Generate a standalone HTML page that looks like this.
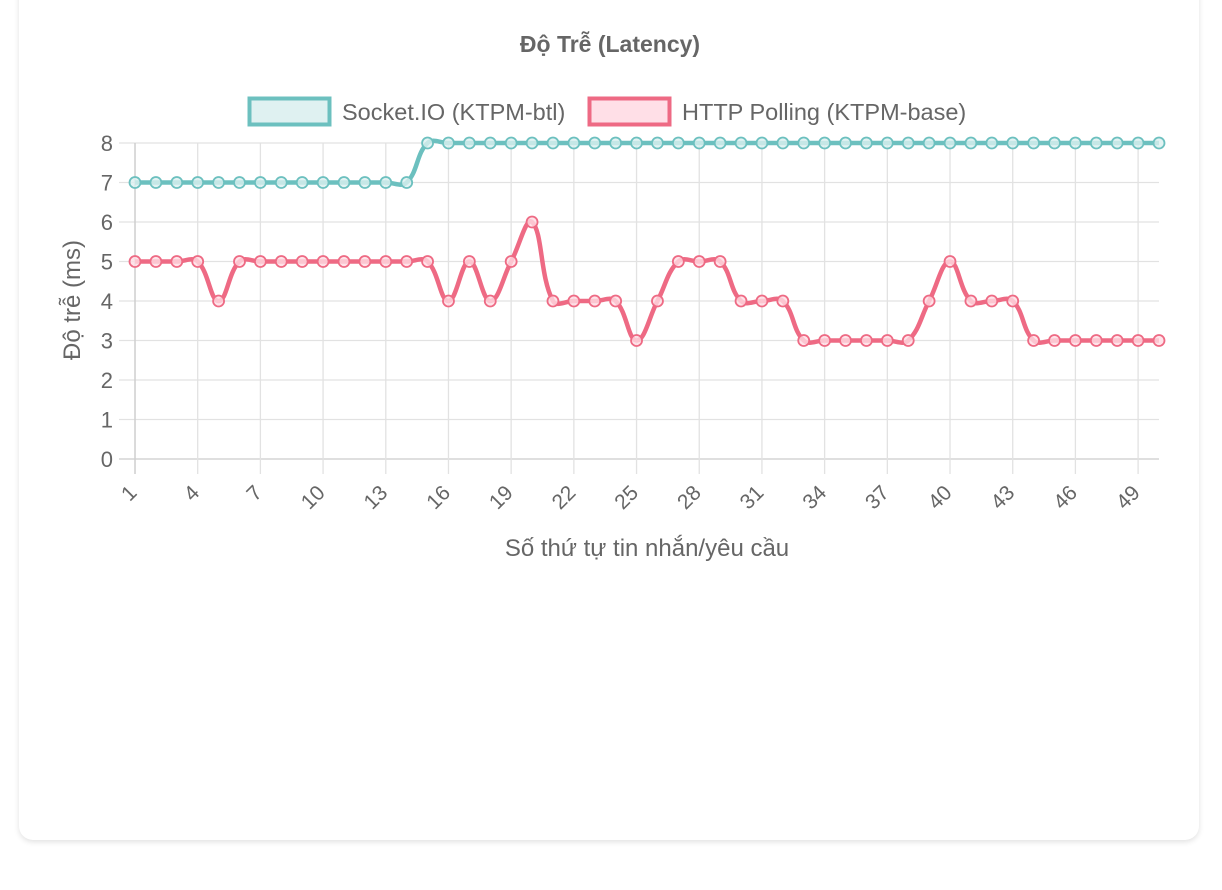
<!DOCTYPE html>
<html><head><meta charset="utf-8"><style>
html,body{margin:0;padding:0;background:#fff;width:1222px;height:890px;overflow:hidden;font-family:"Liberation Sans","Noto Sans CJK SC",sans-serif}
#card{position:absolute;left:19px;top:-20px;width:1180px;height:860px;background:#fff;border-radius:14px;box-shadow:0 2px 6px rgba(0,0,0,0.12)}
svg{position:absolute;left:0;top:0}
</style></head><body>
<div id="card"></div>
<svg id="chart" width="1222" height="890"></svg>
<script>
const categories = Array.from({length:50},(_,i)=>i+1);
const socketValues = [7,7,7,7,7,7,7,7,7,7,7,7,7,7,8,8,8,8,8,8,8,8,8,8,8,8,8,8,8,8,8,8,8,8,8,8,8,8,8,8,8,8,8,8,8,8,8,8,8,8];
const httpValues = [5,5,5,5,4,5,5,5,5,5,5,5,5,5,5,4,5,4,5,6,4,4,4,4,3,4,5,5,5,4,4,4,3,3,3,3,3,3,4,5,4,4,4,3,3,3,3,3,3,3];
const yTicks = [0,1,2,3,4,5,6,7,8];
const xTickLabels = [1,4,7,10,13,16,19,22,25,28,31,34,37,40,43,46,49];

const NS="http://www.w3.org/2000/svg";
const svg=document.getElementById('chart');
const X0=135,X1=1159,Y0=459,Y1=143;
const xs=v=>X0+(v-1)*(X1-X0)/(categories.length-1);
const ys=v=>Y0-v*(Y0-Y1)/8;
function el(tag,attrs,parent){const e=document.createElementNS(NS,tag);for(const k in attrs)e.setAttribute(k,attrs[k]);(parent||svg).appendChild(e);return e;}

const grid=el('g',{});


yTicks.forEach(t=>{
  const l=el('line',{x1:119,x2:X1,y1:ys(t),y2:ys(t),stroke:t===0?'#ccc':'#e2e2e2','stroke-width':1.3},grid);
  
  
  const tx=el('text',{x:113,y:ys(t)+8,'text-anchor':'end','font-size':22,fill:'#666'});
  tx.textContent=t;
  
  
});
xTickLabels.forEach(t=>{
  const x=xs(t);
  const l=el('line',{x1:x,x2:x,y1:Y1,y2:474,stroke:'#e2e2e2','stroke-width':1.3},grid);
  
  
  const tx=el('text',{x:x+3,y:494,'text-anchor':'end','font-size':21,fill:'#666',transform:`rotate(-45 ${x+3} 494)`});
  tx.textContent=t;
  
  
});
el('line',{x1:X0,x2:X0,y1:Y1,y2:474,stroke:'#ccc','stroke-width':1.3});

function spline(vals){
  const p=vals.map((v,i)=>[xs(categories[i]),ys(v)]);
  const cps=p.map((c,i)=>{
    const pr=p[i-1]||c, nx=p[i+1]||c;
    const d01=Math.hypot(c[0]-pr[0],c[1]-pr[1]), d12=Math.hypot(nx[0]-c[0],nx[1]-c[1]);
    let s01=d01/(d01+d12||1), s12=d12/(d01+d12||1);
    const fa=0.4*s01, fb=0.4*s12;
    return {p:[c[0]-fa*(nx[0]-pr[0]),c[1]-fa*(nx[1]-pr[1])],n:[c[0]+fb*(nx[0]-pr[0]),c[1]+fb*(nx[1]-pr[1])]};
  });
  let d=`M${p[0][0]},${p[0][1]}`;
  for(let i=1;i<p.length;i++){d+=` C${cps[i-1].n[0]},${cps[i-1].n[1]} ${cps[i].p[0]},${cps[i].p[1]} ${p[i][0]},${p[i][1]}`;}
  return d;
}
function series(vals,color,fill,name){
  const g=el('g',{});
  
  
  const path=el('path',{d:spline(vals),fill:'none',stroke:color,'stroke-width':4.5},g);
  
  
  vals.forEach((v,i)=>{
    const c=el('circle',{cx:xs(categories[i]),cy:ys(v),r:5.5,fill:fill,stroke:color,'stroke-width':1.8},g);
    
    
  });
}
series(httpValues,'#ee6a84','rgba(255,220,228,0.8)','http-polling-series');
series(socketValues,'#6cc0bf','rgba(220,240,240,0.8)','socket-io-series');

function t(x,y,txt,attrs,name){const e=el('text',Object.assign({x,y},attrs));e.textContent=txt;return e;}
t(610,52,'Độ Trễ (Latency)',{'text-anchor':'middle','font-size':23,'font-weight':'bold',fill:'#666'},'chart-title');
t(647,556,'Số thứ tự tin nhắn/yêu cầu',{'text-anchor':'middle','font-size':24,fill:'#666'},'x-axis-title');
t(80,300,'Độ trễ (ms)',{'text-anchor':'middle','font-size':24,fill:'#666',transform:'rotate(-90 80 300)'},'y-axis-title');

const lg1=el('rect',{x:249.5,y:98.5,width:80,height:26,fill:'rgba(220,240,240,0.9)',stroke:'#6cc0bf','stroke-width':4});


t(342,120,'Socket.IO (KTPM-btl)',{'font-size':23.5,fill:'#666'},'legend-socket-io-label');
const lg2=el('rect',{x:589.5,y:98.5,width:80,height:26,fill:'rgba(255,220,228,0.9)',stroke:'#ee6a84','stroke-width':4});


t(682,120,'HTTP Polling (KTPM-base)',{'font-size':23.5,fill:'#666'},'legend-http-polling-label');
</script>
</body></html>
